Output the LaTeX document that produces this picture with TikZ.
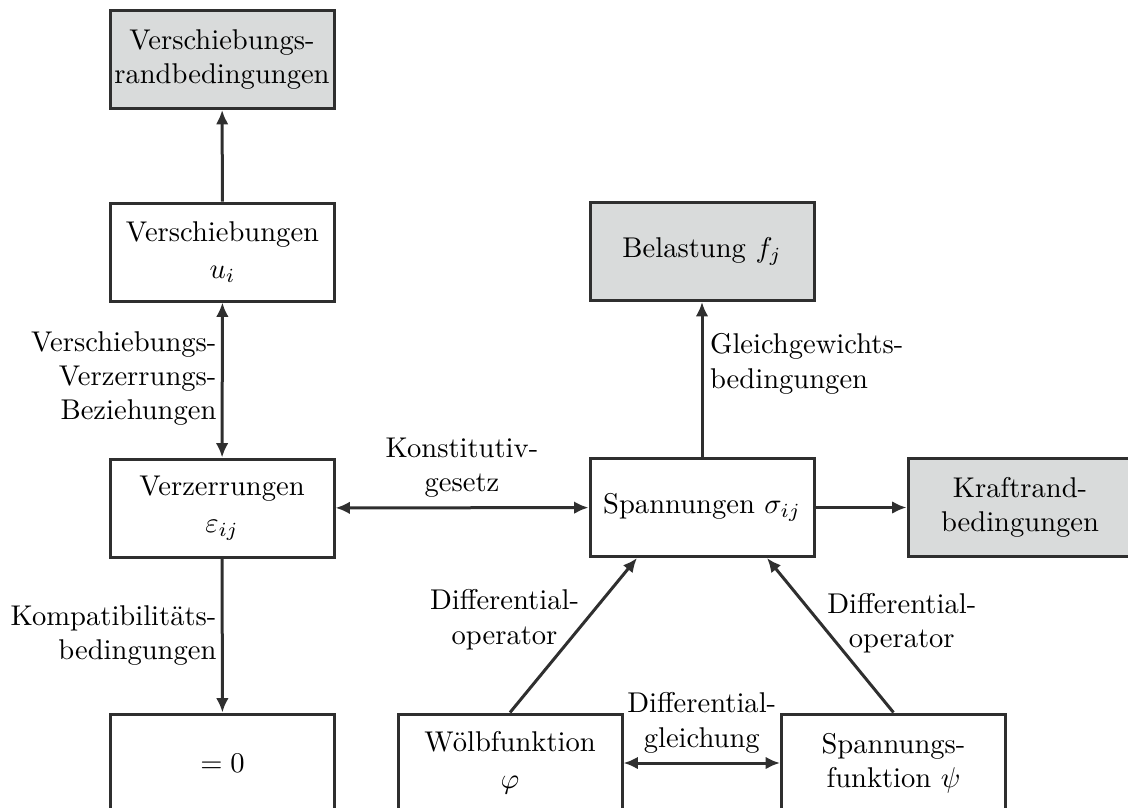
\documentclass[tikz,border=0pt]{standalone}
\usetikzlibrary{arrows.meta}
\definecolor{ln}{HTML}{2F2F2F}
\definecolor{bx}{HTML}{D9DBDB}
\begin{document}
\begin{tikzpicture}[x=0.35pt,y=-0.35pt,
  box/.style={draw=ln, line width=1.05pt, minimum width=78.4pt, minimum height=34.3pt, align=center, inner sep=1pt, text=black},
  gbox/.style={box, fill=bx},
  tip/.tip={Latex[length=5pt,width=4.4pt]},
  arr/.style={draw=ln, line width=1.05pt, -tip},
  darr/.style={draw=ln, line width=1.05pt, tip-tip},
  lab/.style={inner sep=2pt, text=black}]
\useasboundingbox (0,0) rectangle (1128,807);
\node[gbox] (vrand) at (222,59.5) {Verschiebungs-\\randbedingungen};
\node[box] (versch) at (222.5,252) {Verschiebungen\\[1pt]$u_i$};
\node[box] (verz) at (222,508) {Verzerrungen\\[1pt]$\varepsilon_{ij}$};
\node[box] (null) at (222.5,763) {$=0$};
\node[box] (span) at (702,507.5) {Spannungen $\sigma_{ij}$};
\node[gbox] (bel) at (702,251.5) {Belastung $f_j$};
\node[gbox] (kraft) at (1020,507.5) {Kraftrand-\\bedingungen};
\node[box] (woelb) at (510,763) {W\"olbfunktion\\[1pt]$\varphi$};
\node[box] (sfunk) at (893.5,763) {Spannungs-\\funktion $\psi$};

\draw[arr] (versch) -- (vrand);
\draw[darr] (versch) -- node[lab, pos=0.49, left, align=right, inner sep=1.5pt] {Verschiebungs-\\Verzerrungs-\\Beziehungen} (verz);
\draw[arr] (verz) -- node[lab, midway, left, align=right, inner sep=1.5pt] {Kompatibilit\"ats-\\bedingungen} (null);
\draw[darr] (verz) -- node[lab, midway, above, align=center, inner sep=3pt] {Konstitutiv-\\gesetz} (span);
\draw[arr] (span) -- node[lab, pos=0.6, right, align=left, inner sep=2.3pt] {Gleichgewichts-\\bedingungen} (bel);
\draw[arr] (span) -- (kraft);
\draw[arr] (woelb.north) -- node[lab, pos=0.6, left, align=center] {Differential-\\operator} ([xshift=-22.75pt]span.south);
\draw[arr] (sfunk.north) -- node[lab, pos=0.58, right, align=center] {Differential-\\operator} ([xshift=22.75pt]span.south);
\draw[darr] (woelb) -- node[lab, midway, above, align=center, inner sep=3pt] {Differential-\\gleichung} (sfunk);
\end{tikzpicture}
\end{document}
